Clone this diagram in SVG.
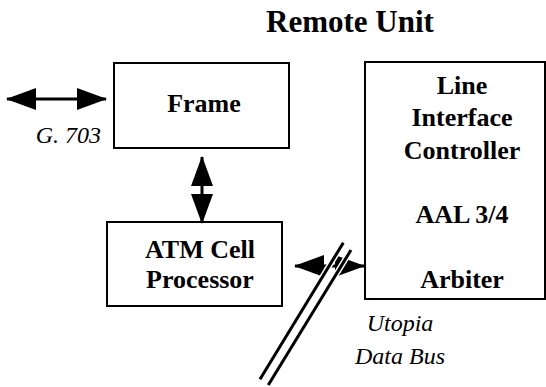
<svg xmlns="http://www.w3.org/2000/svg" width="546" height="387" viewBox="0 0 546 387">
  <style>
    .box { fill: #fff; stroke: #000; stroke-width: 2; }
    .lbl { font-family: "Liberation Serif", "DejaVu Serif", serif; font-weight: bold; font-size: 26px; fill: #000; text-anchor: middle; }
    .ital { font-family: "Liberation Serif", "DejaVu Serif", serif; font-style: italic; font-size: 24px; fill: #000; }
    .title { font-family: "Liberation Serif", "DejaVu Serif", serif; font-weight: bold; font-size: 31px; fill: #000; text-anchor: middle; }
    .shaft { stroke: #000; stroke-width: 3; fill: none; }
    .bus-halo { stroke: #fff; stroke-width: 6; fill: none; }
    .bus { stroke: #000; stroke-width: 3; fill: none; }
  </style>
  <defs>
    <marker id="head" markerUnits="userSpaceOnUse" markerWidth="30" markerHeight="22" viewBox="0 0 30 22" refX="29" refY="11" orient="auto-start-reverse">
      <path d="M0,0 L30,11 L0,22 Z" fill="#000"/>
    </marker>
  </defs>

  <rect width="546" height="387" fill="#fff"/>

  <text class="title" x="350" y="32">Remote Unit</text>

  <g id="frame">
    <rect class="box" x="114" y="63" width="175" height="85"/>
    <text class="lbl" x="204" y="112">Frame</text>
  </g>

  <g id="atm-cell-processor">
    <rect class="box" x="107" y="222" width="175" height="84"/>
    <text class="lbl" x="200" y="258">ATM Cell</text>
    <text class="lbl" x="200" y="288">Processor</text>
  </g>

  <g id="line-interface-controller">
    <rect class="box" x="365" y="62" width="180" height="237"/>
    <text class="lbl" x="462" y="94">Line</text>
    <text class="lbl" x="462" y="126">Interface</text>
    <text class="lbl" x="462" y="159">Controller</text>
    <text class="lbl" x="462" y="223">AAL 3/4</text>
    <text class="lbl" x="462" y="288">Arbiter</text>
  </g>

  <g id="connectors">
    <!-- G.703 line interface -->
    <line class="shaft" x1="7" y1="99" x2="106" y2="99" marker-start="url(#head)" marker-end="url(#head)"/>
    <!-- Frame <-> ATM Cell Processor -->
    <line class="shaft" x1="202" y1="157" x2="202" y2="223" marker-start="url(#head)" marker-end="url(#head)"/>
    <!-- ATM Cell Processor <-> Line Interface Controller -->
    <line class="shaft" x1="295" y1="266" x2="364" y2="266" marker-start="url(#head)" marker-end="url(#head)"/>
    <!-- Utopia data bus, drawn over the arrow with a white outline -->
    <g id="utopia-bus">
      <line class="bus-halo" x1="343.3" y1="242.7" x2="260" y2="379.3"/>
      <line class="bus-halo" x1="351" y1="250" x2="268.3" y2="385"/>
      <line class="bus" x1="343.3" y1="242.7" x2="260" y2="379.3"/>
      <line class="bus" x1="351" y1="250" x2="268.3" y2="385"/>
    </g>
  </g>

  <text class="ital" x="101" y="143" text-anchor="end" font-size="25">G. 703</text>
  <text class="ital" x="400" y="331" text-anchor="middle">Utopia</text>
  <text class="ital" x="400" y="364" text-anchor="middle">Data Bus</text>
</svg>
